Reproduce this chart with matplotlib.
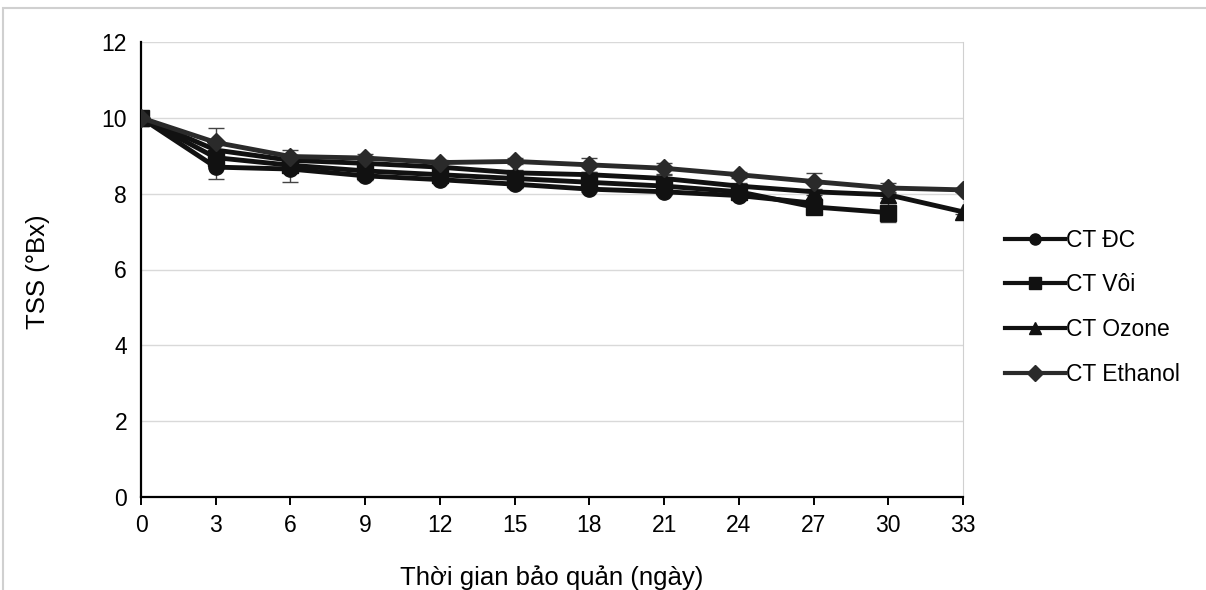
import matplotlib.pyplot as plt
from matplotlib.patches import Rectangle

plt.rcParams['font.family'] = ['Liberation Sans', 'DejaVu Sans']

days = [0, 3, 6, 9, 12, 15, 18, 21, 24, 27, 30, 33]
tick_labels = ['0', '3', '6', '9', '12', '15', '18', '21', '24', '27', '30', '33']

tss_dc = [10.0, 8.70, 8.65, 8.47, 8.37, 8.25, 8.12, 8.05, 7.95, 7.75]
err_dc = [0.05, 0.30, 0.35, 0.10, 0.08, 0.10, 0.08, 0.08, 0.08, 0.10]

tss_voi = [10.0, 8.95, 8.75, 8.60, 8.50, 8.40, 8.30, 8.20, 8.05, 7.65, 7.50]
err_voi = [0.05, 0.15, 0.12, 0.10, 0.08, 0.10, 0.08, 0.08, 0.08, 0.12, 0.25]

tss_ozone = [10.0, 9.15, 8.88, 8.80, 8.70, 8.55, 8.50, 8.40, 8.20, 8.05, 7.97, 7.52]
err_ozone = [0.05, 0.15, 0.10, 0.08, 0.08, 0.08, 0.08, 0.08, 0.08, 0.08, 0.08, 0.05]

tss_eth = [10.0, 9.35, 8.98, 8.94, 8.82, 8.85, 8.76, 8.67, 8.50, 8.32, 8.15, 8.10]
err_eth = [0.05, 0.38, 0.18, 0.10, 0.08, 0.08, 0.18, 0.15, 0.08, 0.22, 0.12, 0.05]

series = [
    ('CT ĐC', tss_dc, err_dc, 'o', '#111111'),
    ('CT Vôi', tss_voi, err_voi, 's', '#111111'),
    ('CT Ozone', tss_ozone, err_ozone, '^', '#111111'),
    ('CT Ethanol', tss_eth, err_eth, 'D', '#2a2a2a'),
]

fig = plt.figure(figsize=(12.06, 5.9), dpi=100)
fig.patches.append(Rectangle((3 / 1206, -0.05), 1.2, 1.05 - 8 / 590,
                             transform=fig.transFigure, fill=False,
                             edgecolor='#d0d0d0', linewidth=1.5))
ax = fig.add_axes([141 / 1206, 93 / 590, 822 / 1206, 455 / 590])

for name, vals, errs, mk, col in series:
    x = days[:len(vals)]
    ax.errorbar(x, vals, yerr=errs, fmt='none', ecolor='#444444',
                elinewidth=1, capsize=6, capthick=1, zorder=2)
    ms = 9 if mk == 'D' else 11
    ax.plot(x, vals, marker=mk, color=col, linewidth=3.5, markersize=ms,
            label=name, zorder=3)

ax.set_xlim(0, 33)
ax.set_ylim(0, 12)
ax.set_xticks(days)
ax.set_xticklabels(tick_labels)
ax.set_yticks(range(0, 13, 2))
ax.grid(axis='y', color='#d9d9d9', linewidth=1)
ax.set_axisbelow(True)

ax.spines['top'].set_visible(False)
ax.spines['right'].set_color('#d0d0d0')
ax.spines['left'].set_linewidth(1.6)
ax.spines['bottom'].set_linewidth(1.6)
ax.tick_params(axis='x', length=6, width=1.4, labelsize=16.5, pad=6)
ax.tick_params(axis='y', length=0, labelsize=16.5, pad=10)

fig.text(552 / 1206, 1 - 578 / 590, 'Thời gian bảo quản (ngày)', ha='center',
         va='center', fontsize=18.5)
fig.text(38 / 1206, 1 - 272 / 590, 'TSS (°Bx)', ha='center', va='center',
         rotation=90, fontsize=18.5)

leg = ax.legend(loc='upper left', bbox_to_anchor=(1.04, 0.61), frameon=False,
                fontsize=16.5, handlelength=2.6, handletextpad=0.05,
                labelspacing=0.95, borderaxespad=0)
for h in leg.legend_handles:
    h.set_linewidth(3)
    h.set_markersize(8)

fig.savefig('out.png', dpi=100)
